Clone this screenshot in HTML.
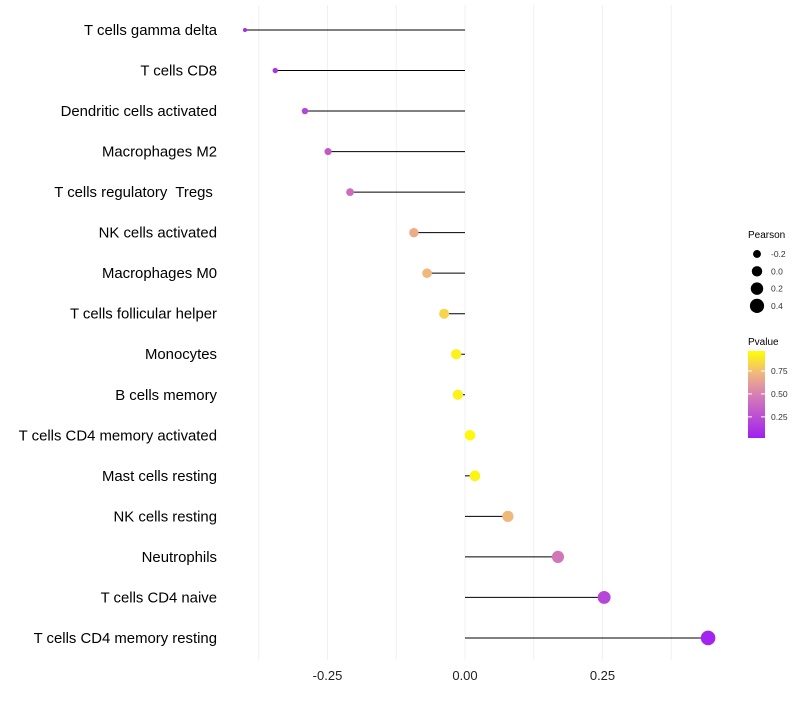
<!DOCTYPE html>
<html><head><meta charset="utf-8"><style>
body{margin:0;background:#fff;font-family:"Liberation Sans",Arial,sans-serif}
svg text{font-family:"Liberation Sans",Arial,sans-serif;white-space:pre}
</style></head><body>
<svg id="chart" width="800" height="700" xmlns="http://www.w3.org/2000/svg">
<defs><linearGradient id="pg" x1="0" y1="1" x2="0" y2="0">
<stop offset="0" stop-color="#a020f0"/><stop offset="0.5" stop-color="#d77fb4"/><stop offset="0.75" stop-color="#f0b97c"/><stop offset="1" stop-color="#ffff00"/></linearGradient></defs>
<g id="grid"></g><g id="marks"></g><g id="labels"></g>
<g>
<text x="748" y="238" font-size="10">Pearson</text>
<g id="sizeleg"></g>
<text x="748" y="345" font-size="10">Pvalue</text>
<rect x="748" y="351" width="17" height="87" fill="url(#pg)"/>
<g id="colleg"></g>
</g>
</svg>
<script>
const categories=["T cells gamma delta","T cells CD8","Dendritic cells activated","Macrophages M2","T cells regulatory  Tregs ","NK cells activated","Macrophages M0","T cells follicular helper","Monocytes","B cells memory","T cells CD4 memory activated","Mast cells resting","NK cells resting","Neutrophils","T cells CD4 naive","T cells CD4 memory resting"];
const pearson=[-0.4,-0.345,-0.291,-0.249,-0.209,-0.093,-0.069,-0.038,-0.016,-0.013,0.009,0.018,0.078,0.169,0.253,0.442];
const pvalue=[0.05,0.1,0.2,0.3,0.4,0.7,0.75,0.85,0.95,0.95,0.98,0.96,0.75,0.45,0.2,0.02];
const xTicks=[-0.25,0,0.25];
const xTickLabels=["-0.25","0.00","0.25"];
const sizeLegVals=[-0.2,0,0.2,0.4];
const colLegVals=[0.25,0.5,0.75];
const NS="http://www.w3.org/2000/svg";
const xs=v=>465+v*550;
const ys=i=>30+i*40.53;
const rs=v=>Math.sqrt(Math.max(1,4+(v+0.4)*58));
const stops=[[0,[160,32,240]],[0.5,[215,127,180]],[0.75,[240,185,124]],[1,[255,255,0]]];
function col(p){for(let k=1;k<stops.length;k++){if(p<=stops[k][0]){const a=stops[k-1],b=stops[k],t=(p-a[0])/(b[0]-a[0]);return "rgb("+a[1].map((c,j)=>Math.round(c+(b[1][j]-c)*t)).join(",")+")";}}return "rgb(255,255,0)";}
function mk(t,at,parent){const e=document.createElementNS(NS,t);for(const k in at)e.setAttribute(k,at[k]);parent.appendChild(e);return e;}
const grid=document.getElementById('grid'),marks=document.getElementById('marks'),labels=document.getElementById('labels');
[-0.375,-0.25,-0.125,0,0.125,0.25,0.375].forEach(v=>{const l=mk('line',{x1:xs(v),x2:xs(v),y1:5,y2:660,stroke:'#f0f0f0','stroke-width':1},grid);

});
categories.forEach((c,i)=>{const y=ys(i);
const t=mk('text',{x:217,y:y+5,'font-size':14.9,'text-anchor':'end',fill:'#000'},labels);t.textContent=c;


const l=mk('line',{x1:xs(0),x2:xs(pearson[i]),y1:y,y2:y,stroke:'#000','stroke-width':1},marks);


const d=mk('circle',{cx:xs(pearson[i]),cy:y,r:rs(pearson[i]),fill:col(pvalue[i])},marks);

});
xTicks.forEach((v,i)=>{const t=mk('text',{x:xs(v),y:680,'font-size':13,'text-anchor':'middle',fill:'#222'},labels);t.textContent=xTickLabels[i];

});
const sl=document.getElementById('sizeleg');
sizeLegVals.forEach((v,i)=>{const y=254+i*17.3;
const c=mk('circle',{cx:757,cy:y,r:rs(v),fill:'#000'},sl);


const t=mk('text',{x:771,y:y+3,'font-size':8.5,fill:'#333'},sl);t.textContent=v.toFixed(1);

});
const cl=document.getElementById('colleg');
colLegVals.forEach(v=>{const y=438-(v-0.02)/(0.967-0.02)*87;
mk('line',{x1:748,x2:752,y1:y,y2:y,stroke:'#fff'},cl);mk('line',{x1:761,x2:765,y1:y,y2:y,stroke:'#fff'},cl);
const t=mk('text',{x:771,y:y+3,'font-size':8.5,fill:'#333'},cl);t.textContent=v.toFixed(2);

});
</script>
</body></html>
